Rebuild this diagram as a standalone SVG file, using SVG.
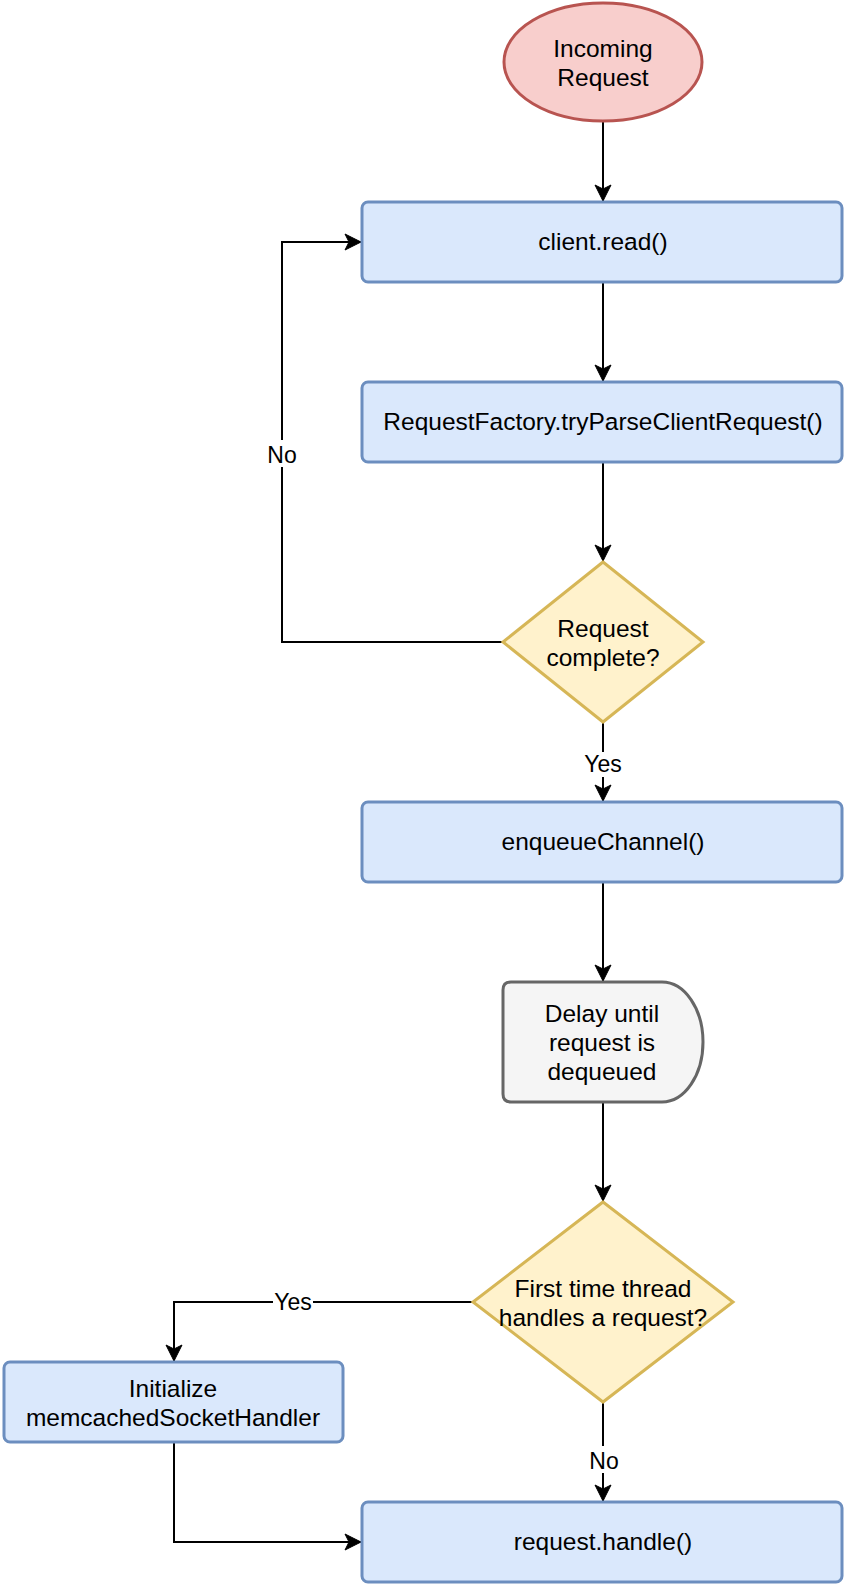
<svg xmlns="http://www.w3.org/2000/svg" width="846" height="1586" viewBox="0 0 846 1586">
<style>
text{font-family:"Liberation Sans",Arial,sans-serif;font-size:24.5px;fill:#000;text-anchor:middle}
.lbl{font-size:23px}
.blue{fill:#dae8fc;stroke:#6c8ebf;stroke-width:3}
.yel{fill:#fff2cc;stroke:#d6b656;stroke-width:3}
.red{fill:#f8cecc;stroke:#b85450;stroke-width:3}
.gray{fill:#f5f5f5;stroke:#666666;stroke-width:3}
.edge{fill:none;stroke:#000;stroke-width:2}
.lblbg{fill:#fff}
</style>
<defs>
<marker id="arr" viewBox="0 0 18 18" refX="17" refY="9" markerWidth="18" markerHeight="18" markerUnits="userSpaceOnUse" orient="auto">
<path d="M1,1 L17,9 L1,17 L5,9 Z" fill="#000" stroke="#000" stroke-width="1"/>
</marker>
</defs>
<rect width="846" height="1586" fill="#fff"/>
<g id="connectors">
<path class="edge" d="M603,122 L603,201" marker-end="url(#arr)"/>
<path class="edge" d="M603,282 L603,381" marker-end="url(#arr)"/>
<path class="edge" d="M603,462 L603,561" marker-end="url(#arr)"/>
<path class="edge" d="M503,642 L282,642 L282,242 L361,242" marker-end="url(#arr)"/>
<rect class="lblbg" x="265" y="440" width="34" height="27"/>
<text class="lbl" x="282" y="463">No</text>
<path class="edge" d="M603,722 L603,801" marker-end="url(#arr)"/>
<rect class="lblbg" x="583" y="752" width="40" height="25"/>
<text class="lbl" x="603" y="772">Yes</text>
<path class="edge" d="M603,882 L603,981" marker-end="url(#arr)"/>
<path class="edge" d="M603,1102 L603,1201" marker-end="url(#arr)"/>
<path class="edge" d="M473,1302 L174,1302 L174,1361" marker-end="url(#arr)"/>
<rect class="lblbg" x="273" y="1290" width="40" height="25"/>
<text class="lbl" x="293" y="1310">Yes</text>
<path class="edge" d="M603,1402 L603,1501" marker-end="url(#arr)"/>
<rect class="lblbg" x="587" y="1446" width="34" height="27"/>
<text class="lbl" x="604" y="1469">No</text>
<path class="edge" d="M174,1442 L174,1542 L361,1542" marker-end="url(#arr)"/>
</g>
<g id="incoming">
<ellipse class="red" cx="603" cy="62" rx="99" ry="59"/>
<text x="603" y="57">Incoming</text>
<text x="603" y="86">Request</text>
</g>
<g id="client-read">
<rect class="blue" x="362" y="202" width="480" height="80" rx="6"/>
<text x="603" y="250">client.read()</text>
</g>
<g id="try-parse">
<rect class="blue" x="362" y="382" width="480" height="80" rx="6"/>
<text x="603" y="430">RequestFactory.tryParseClientRequest()</text>
</g>
<g id="request-complete">
<path class="yel" d="M603,562 L703,642 L603,722 L503,642 Z"/>
<text x="603" y="637">Request</text>
<text x="603" y="666">complete?</text>
</g>
<g id="enqueue">
<rect class="blue" x="362" y="802" width="480" height="80" rx="6"/>
<text x="603" y="850">enqueueChannel()</text>
</g>
<g id="delay">
<path class="gray" d="M511,982 L662,982 A41,60 0 0 1 662,1102 L511,1102 Q503,1102 503,1094 L503,990 Q503,982 511,982 Z"/>
<text x="602" y="1022">Delay until</text>
<text x="602" y="1051">request is</text>
<text x="602" y="1080">dequeued</text>
</g>
<g id="first-time">
<path class="yel" d="M603,1202 L733,1302 L603,1402 L473,1302 Z"/>
<text x="603" y="1297">First time thread</text>
<text x="603" y="1326">handles a request?</text>
</g>
<g id="init-handler">
<rect class="blue" x="4" y="1362" width="339" height="80" rx="6"/>
<text x="173" y="1397">Initialize</text>
<text x="173" y="1426">memcachedSocketHandler</text>
</g>
<g id="request-handle">
<rect class="blue" x="362" y="1502" width="480" height="80" rx="6"/>
<text x="603" y="1550">request.handle()</text>
</g>
</svg>
